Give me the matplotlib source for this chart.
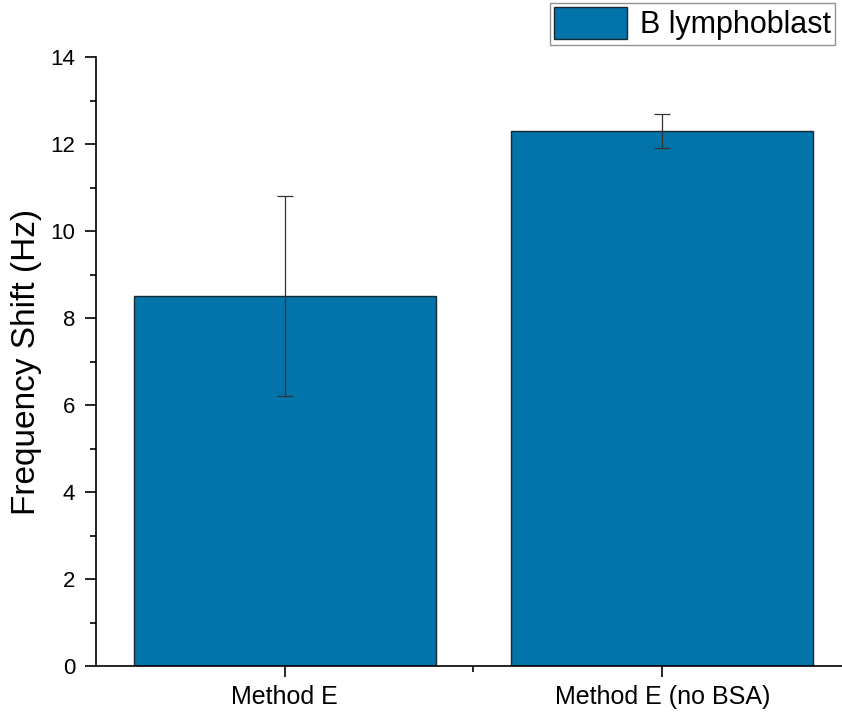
import matplotlib.pyplot as plt
from matplotlib.ticker import MultipleLocator, FixedLocator

plt.rcParams['font.family'] = ['Liberation Sans', 'DejaVu Sans']

categories = ['Method E', 'Method E (no BSA)']
shift = [8.5, 12.3]
err_low = [2.3, 0.4]
err_high = [2.3, 0.4]
series_name = 'B lymphoblast'

fig = plt.figure(figsize=(8.42, 7.18), dpi=100)
ax = fig.add_axes([0.114, 0.0724, 0.8967, 0.8482])

pos = [1, 2]
bars = ax.bar(pos, shift, width=0.8, color='#0274a9', edgecolor='#1b2633',
              linewidth=1.0, label=series_name, zorder=2)
ax.errorbar(pos, shift, yerr=[err_low, err_high], fmt='none', ecolor='#333333',
            elinewidth=0.9, capsize=6, capthick=0.9, zorder=3)

ax.set_xlim(0.5, 2.5)
ax.set_ylim(0, 14)
ax.set_xticks(pos)
ax.set_xticklabels(categories, fontsize=18)
ax.xaxis.set_minor_locator(FixedLocator([1.5]))
ax.yaxis.set_major_locator(MultipleLocator(2))
ax.yaxis.set_minor_locator(MultipleLocator(1))
ax.tick_params(axis='y', which='major', labelsize=16, length=8, width=1.2,
               direction='out', pad=7)
ax.tick_params(axis='x', which='major', length=8, width=1.2, direction='out', pad=6)
ax.tick_params(which='minor', length=4.5, width=1.2, direction='out')
ax.set_ylabel('Frequency Shift (Hz)', fontsize=24, labelpad=6)

for s in ('top', 'right'):
    ax.spines[s].set_visible(False)
for s in ('left', 'bottom'):
    ax.spines[s].set_linewidth(1.2)

fig.legend(handles=[bars], labels=[series_name], loc='upper right',
           bbox_to_anchor=(0.992, 0.996), fontsize=22, frameon=True, fancybox=False,
           edgecolor='#777777', handlelength=2.4, handleheight=1.2,
           borderpad=0.15, handletextpad=0.4, borderaxespad=0.0)

fig.savefig('out.png', dpi=100)
